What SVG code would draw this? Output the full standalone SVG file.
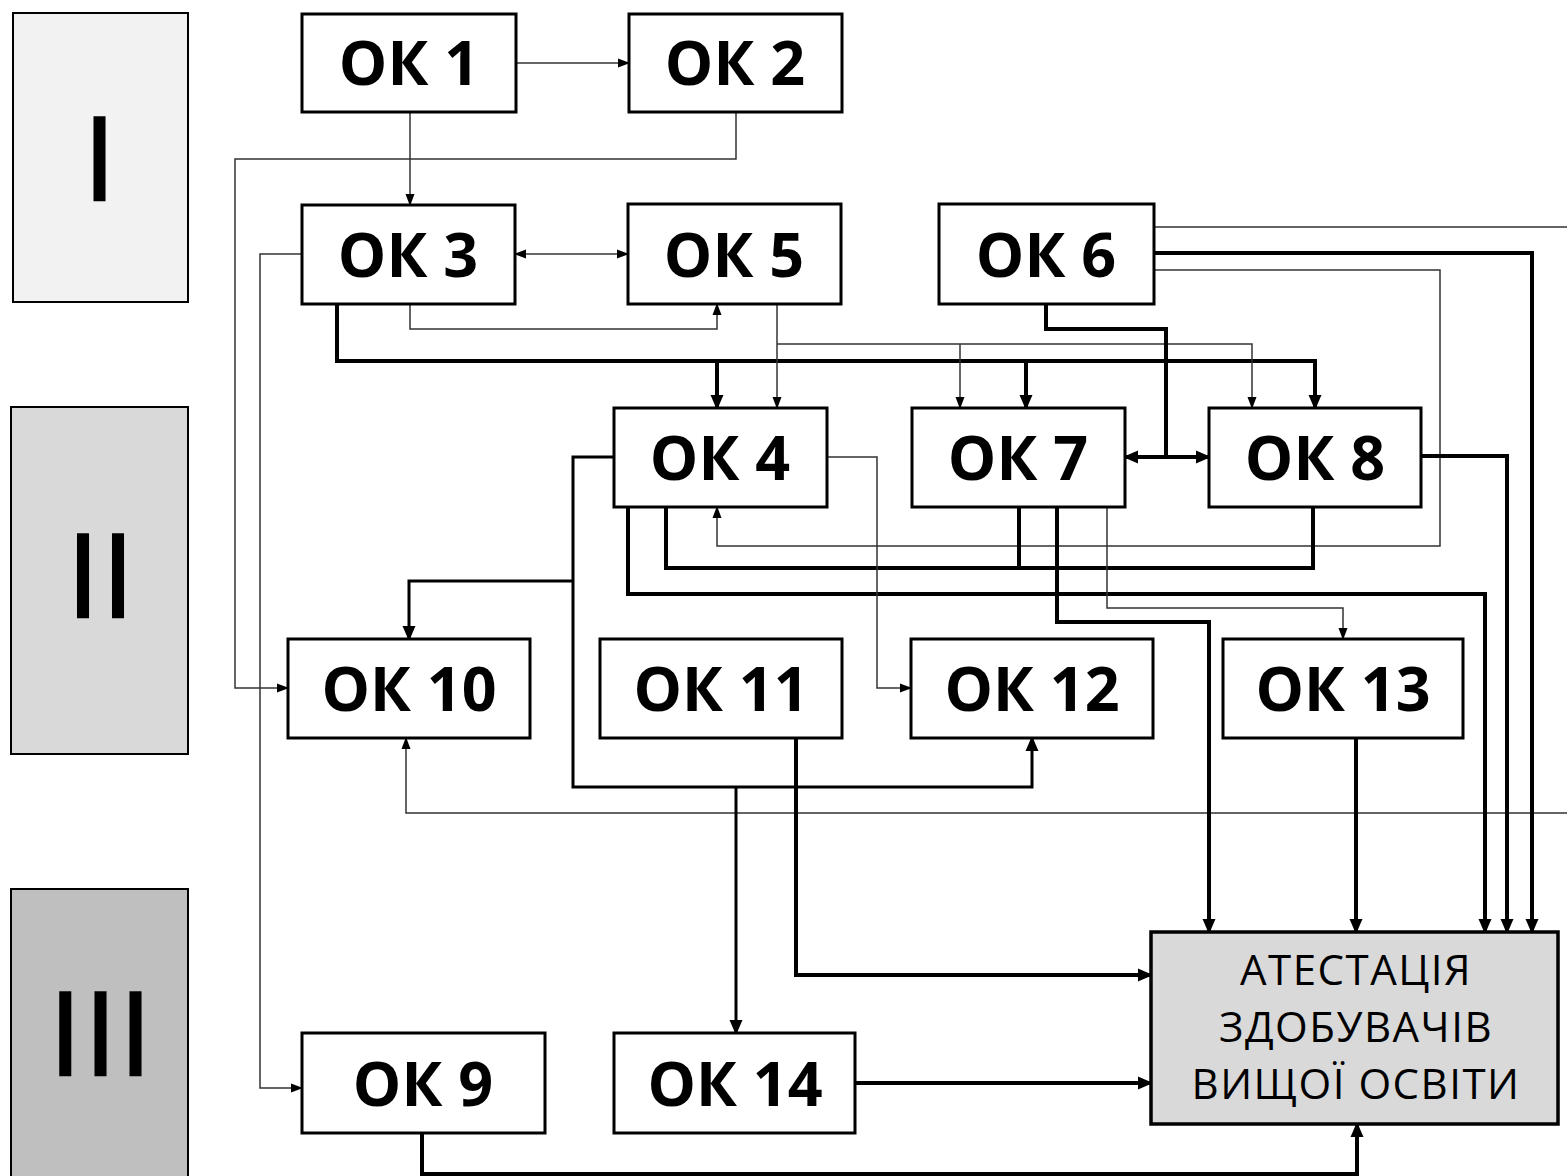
<svg xmlns="http://www.w3.org/2000/svg" width="1567" height="1176" viewBox="0 0 1567 1176">
<style>
.lv{stroke:#000;stroke-width:2;}
.lvI{fill:#f2f2f2}.lvII{fill:#d9d9d9}.lvIII{fill:#bfbfbf}
.rn{font-family:"Open Sans","Noto Sans",sans-serif;font-size:115px;font-weight:normal;fill:#000;stroke:#000;stroke-width:2.5;text-anchor:middle;letter-spacing:3px}
.box{fill:#fff;stroke:#000;stroke-width:3}
.att{fill:#d9d9d9;stroke:#000;stroke-width:3.5}
.lbl{font-family:"Open Sans","Noto Sans",sans-serif;font-size:61px;font-weight:bold;fill:#000;text-anchor:middle}
.atl{font-family:"Open Sans","Noto Sans",sans-serif;font-size:42px;fill:#000;text-anchor:middle;letter-spacing:1.5px}
.t{fill:none;stroke:#333;stroke-width:1.5}
.m{fill:none;stroke:#000;stroke-width:3}
.k{fill:none;stroke:#000;stroke-width:4}
.at{marker-end:url(#aT)}
.ak{marker-end:url(#aK)}
</style>
<defs>
<marker id="aT" markerUnits="userSpaceOnUse" markerWidth="12" markerHeight="10" refX="11" refY="5" orient="auto-start-reverse"><path d="M0,0.5 L12,5 L0,9.5 z" fill="#000"/></marker>
<marker id="aK" markerUnits="userSpaceOnUse" markerWidth="16" markerHeight="14" refX="13" refY="7" orient="auto-start-reverse"><path d="M0,0.5 L15,7 L0,13.5 z" fill="#000"/></marker>
</defs>
<rect width="1567" height="1176" fill="#fff"/>
<g id="levels">
<rect class="lv lvI" x="13" y="13" width="175" height="289"/>
<text class="rn" x="101" y="200">I</text>
<rect class="lv lvII" x="11" y="407" width="177" height="347"/>
<text class="rn" x="102" y="617">II</text>
<rect class="lv lvIII" x="11" y="889" width="177" height="300"/>
<text class="rn" x="102" y="1075">III</text>
</g>
<g id="connectors">
<path class="t at" d="M516,63 H629"/>
<path class="t at" d="M410,112 V205"/>
<path class="t at" d="M736,112 V159 H235 V688 H288"/>
<path class="t at" d="M302,254 H260 V1088 H302"/>
<path class="t at" d="M515,254 H628" marker-start="url(#aT)"/>
<path class="t at" d="M410,304 V329 H717 V304"/>
<path class="k ak" d="M337,304 V361 H1315 V408"/>
<path class="k ak" d="M717,361 V408"/>
<path class="k ak" d="M1026,361 V408"/>
<path class="t at" d="M777,304 V408"/>
<path class="t at" d="M777,344 H1252 V408"/>
<path class="t at" d="M960,344 V408"/>
<path class="k" d="M1046,304 V329 H1166 V457"/>
<path class="k ak" d="M1166,457 H1125"/>
<path class="k ak" d="M1166,457 H1209"/>
<path class="t at" d="M1154,227 H1590 V813 H406 V738"/>
<path class="k ak" d="M1154,253 H1532 V932"/>
<path class="t at" d="M1154,270 H1440 V546 H717 V507"/>
<path class="k ak" d="M1421,456 H1507 V932"/>
<path class="k" d="M666,507 V568 H1313 V507"/>
<path class="k" d="M1019,507 V568"/>
<path class="k ak" d="M628,507 V594 H1485 V932"/>
<path class="k ak" d="M1057,507 V622 H1209 V932"/>
<path class="t at" d="M1107,507 V608 H1343 V639"/>
<path class="t at" d="M827,457 H877 V688 H911"/>
<path class="m ak" d="M614,457 H573 V787 H1032 V738"/>
<path class="m ak" d="M573,581 H409 V639"/>
<path class="m ak" d="M736,787 V1033"/>
<path class="k ak" d="M796,738 V975 H1151"/>
<path class="k ak" d="M1356,738 V932"/>
<path class="k ak" d="M855,1083 H1151"/>
<path class="k ak" d="M422,1133 V1174 H1357 V1124"/>
</g>
<g id="ok1"><rect class="box" x="302" y="14" width="214" height="98"/><text class="lbl" x="409" y="85">ОК 1</text></g>
<g id="ok2"><rect class="box" x="629" y="14" width="213" height="98"/><text class="lbl" x="735" y="85">ОК 2</text></g>
<g id="ok3"><rect class="box" x="302" y="205" width="213" height="99"/><text class="lbl" x="408" y="277">ОК 3</text></g>
<g id="ok5"><rect class="box" x="628" y="204" width="213" height="100"/><text class="lbl" x="734" y="277">ОК 5</text></g>
<g id="ok6"><rect class="box" x="939" y="204" width="215" height="100"/><text class="lbl" x="1046" y="277">ОК 6</text></g>
<g id="ok4"><rect class="box" x="614" y="408" width="213" height="99"/><text class="lbl" x="720" y="480">ОК 4</text></g>
<g id="ok7"><rect class="box" x="912" y="408" width="213" height="99"/><text class="lbl" x="1018" y="480">ОК 7</text></g>
<g id="ok8"><rect class="box" x="1209" y="408" width="212" height="99"/><text class="lbl" x="1315" y="480">ОК 8</text></g>
<g id="ok10"><rect class="box" x="288" y="639" width="242" height="99"/><text class="lbl" x="409" y="711">ОК 10</text></g>
<g id="ok11"><rect class="box" x="600" y="639" width="242" height="99"/><text class="lbl" x="721" y="711">ОК 11</text></g>
<g id="ok12"><rect class="box" x="911" y="639" width="242" height="99"/><text class="lbl" x="1032" y="711">ОК 12</text></g>
<g id="ok13"><rect class="box" x="1223" y="639" width="240" height="99"/><text class="lbl" x="1343" y="711">ОК 13</text></g>
<g id="ok9"><rect class="box" x="302" y="1033" width="243" height="100"/><text class="lbl" x="423" y="1106">ОК 9</text></g>
<g id="ok14"><rect class="box" x="614" y="1033" width="241" height="100"/><text class="lbl" x="735" y="1106">ОК 14</text></g>
<g id="attestation"><rect class="att" x="1151" y="932" width="407" height="192"/>
<text class="atl" x="1356" y="985">АТЕСТАЦІЯ</text>
<text class="atl" x="1356" y="1042">ЗДОБУВАЧІВ</text>
<text class="atl" x="1356" y="1099">ВИЩОЇ ОСВІТИ</text></g>
</svg>
